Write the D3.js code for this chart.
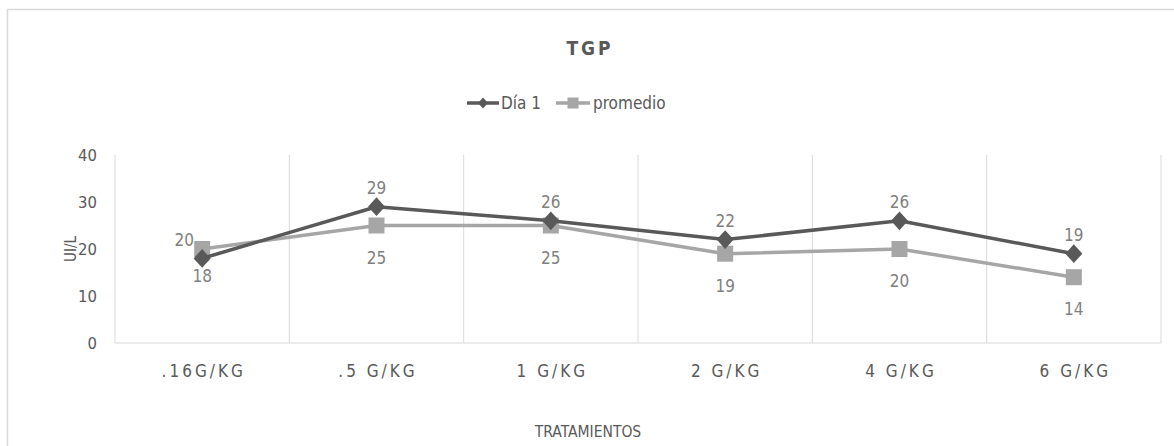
<!DOCTYPE html>
<html>
<head>
<meta charset="utf-8">
<script src="https://cdn.jsdelivr.net/npm/d3@7"></script>
<style>
  html, body { margin: 0; padding: 0; background: #fff; }
  svg text { font-family: "Liberation Sans Narrow", "DejaVu Sans Condensed", "Open Sans", sans-serif; }
</style>
</head>
<body>
<svg id="chart" width="1174" height="446"></svg>
<script>
// TGP (UI/L) by treatment dose
const categories = [".16G/KG", ".5 G/KG", "1 G/KG", "2 G/KG", "4 G/KG", "6 G/KG"];
const dia1 = [18, 29, 26, 22, 26, 19];
const promedio = [20, 25, 25, 19, 20, 14];
const yTicks = [0, 10, 20, 30, 40];

// where each value label sits relative to its marker
const dia1LabelPos = ["below", "above", "above", "above", "above", "above"];
const promLabelPos = ["left", "below", "below", "below", "below", "below"];

const svg = d3.select("#chart");
const W = 1174, H = 446;

// chart frame
svg.append("rect")
  .attr("x", 7.5).attr("y", 9.5)
  .attr("width", W + 20).attr("height", H + 20)
  .attr("fill", "#fff").attr("stroke", "#d9d9d9").attr("stroke-width", 1.5);

const plot = { left: 115, right: 1161, top: 155, bottom: 343 };

const x = d3.scaleBand().domain(categories).range([plot.left, plot.right]);
const y = d3.scaleLinear().domain([0, 40]).range([plot.bottom, plot.top]);

const grid = svg.append("g");
// vertical category boundaries
const bounds = categories.map(c => x(c)).concat([plot.right]);
grid.selectAll("line.v").data(bounds).enter().append("line")
  .attr("x1", d => d).attr("x2", d => d)
  .attr("y1", plot.top).attr("y2", plot.bottom)
  .attr("stroke", "#d9d9d9").attr("stroke-width", 1);
// baseline
grid.append("line")
  .attr("x1", plot.left).attr("x2", plot.right)
  .attr("y1", plot.bottom).attr("y2", plot.bottom)
  .attr("stroke", "#d9d9d9").attr("stroke-width", 1);

// y axis labels
const yAxis = d3.axisLeft(y).tickValues(yTicks).tickSize(0).tickPadding(18);
const ya = svg.append("g").attr("transform", `translate(${plot.left},0)`).call(yAxis);
ya.select(".domain").remove();
ya.selectAll("text").attr("fill", "#595959").style("font-size", "16.5px");

// x axis labels (spaced lettering)
const spacing = 3;
const xAxis = d3.axisBottom(x).tickSize(0).tickPadding(22);
const xa = svg.append("g").attr("transform", `translate(0,${plot.bottom})`).call(xAxis);
xa.select(".domain").remove();
xa.selectAll("text").attr("fill", "#595959").attr("dx", spacing / 2)
  .style("font-size", "17px").style("letter-spacing", spacing + "px");

// titles
svg.append("text").attr("x", 590).attr("y", 55).attr("text-anchor", "middle")
  .attr("fill", "#595959").style("font-size", "19px").style("font-weight", "bold")
  .style("letter-spacing", "3px").text("TGP");

svg.append("text").attr("x", 588).attr("y", 437).attr("text-anchor", "middle")
  .attr("fill", "#595959").style("font-size", "15.5px").text("TRATAMIENTOS");

svg.append("text")
  .attr("transform", `translate(76,${(plot.top + plot.bottom) / 2}) rotate(-90)`)
  .attr("text-anchor", "middle").attr("fill", "#595959").style("font-size", "15px")
  .text("UI/L");

// marker shapes: a squat diamond and a square, sized by half-width
const diamond = r => `M0,${-r * 1.1}L${r},0L0,${r * 1.1}L${-r},0Z`;
const square = r => `M${-r},${-r}H${r}V${r}H${-r}Z`;

const cx = c => x(c) + x.bandwidth() / 2;
const line = d3.line().x((d, i) => cx(categories[i])).y(d => y(d));

const series = [
  { name: "Día 1", values: dia1, color: "#595959", shape: diamond, r: 8.5, lr: 5, pos: dia1LabelPos },
  { name: "promedio", values: promedio, color: "#a6a6a6", shape: square, r: 8, lr: 5.5, pos: promLabelPos }
];

// draw promedio first so Día 1 sits on top
[series[1], series[0]].forEach(s => {
  svg.append("path").datum(s.values)
    .attr("d", line).attr("fill", "none")
    .attr("stroke", s.color).attr("stroke-width", 3.5).attr("stroke-linejoin", "round");
  svg.selectAll(null).data(s.values).enter().append("path")
    .attr("d", s.shape(s.r))
    .attr("transform", (d, i) => `translate(${cx(categories[i])},${y(d)})`)
    .attr("fill", s.color);
});

// value labels
series.forEach(s => {
  svg.selectAll(null).data(s.values).enter().append("text")
    .attr("x", (d, i) => cx(categories[i]) + (s.pos[i] === "left" ? -18 : 0))
    .attr("y", (d, i) => {
      const p = s.pos[i];
      if (p === "above") return y(d) - 13;
      if (p === "below") return y(d) + (s.name === "Día 1" ? 24 : 38);
      return y(d) - 3;
    })
    .attr("text-anchor", "middle")
    .attr("fill", "#7f7f7f").style("font-size", "17px")
    .text(d => d);
});

// legend
const legend = svg.append("g");
const items = [
  { s: series[0], x0: 467, len: 32, tx: 501 },
  { s: series[1], x0: 556, len: 34, tx: 593 }
];
items.forEach(it => {
  legend.append("line").attr("x1", it.x0).attr("x2", it.x0 + it.len)
    .attr("y1", 103).attr("y2", 103)
    .attr("stroke", it.s.color).attr("stroke-width", 3.5);
  legend.append("path")
    .attr("d", it.s.shape(it.s.lr))
    .attr("transform", `translate(${it.x0 + it.len / 2},103)`)
    .attr("fill", it.s.color);
  legend.append("text").attr("x", it.tx).attr("y", 109)
    .attr("fill", "#595959").style("font-size", "17px").text(it.s.name);
});
</script>
</body>
</html>
